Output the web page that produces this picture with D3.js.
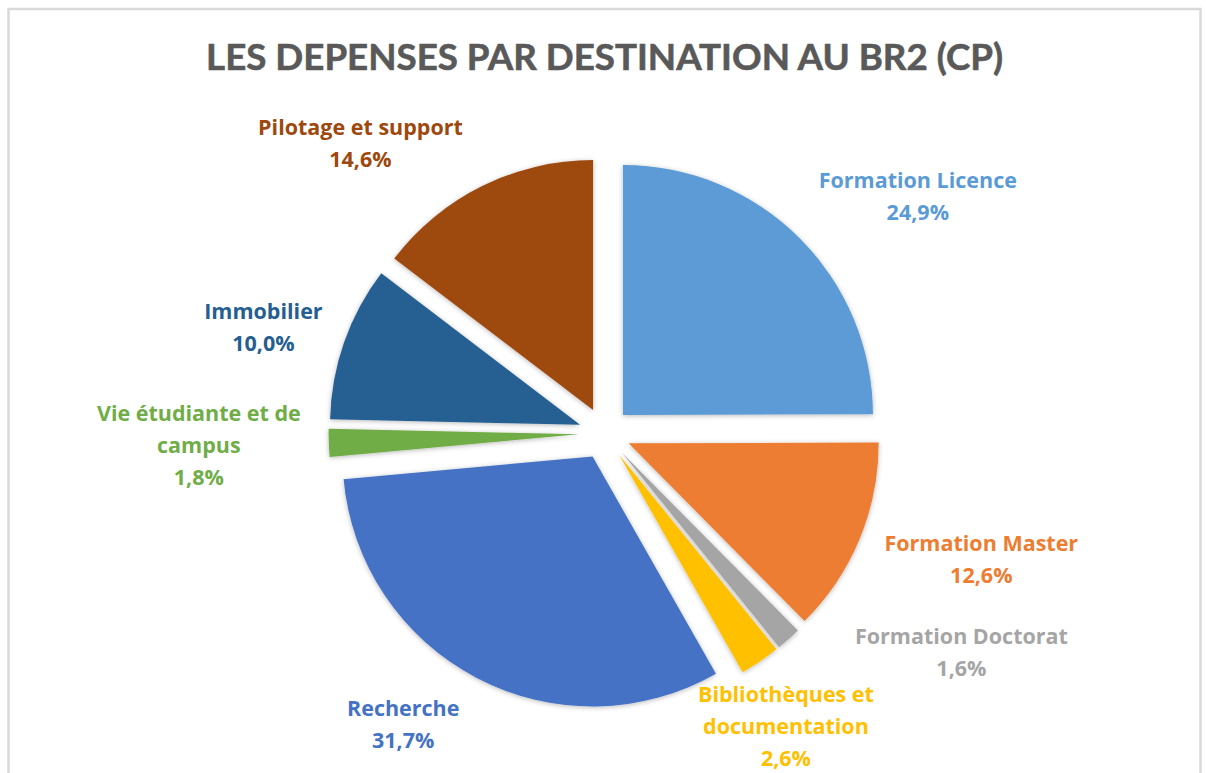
<!DOCTYPE html>
<html>
<head>
<meta charset="utf-8">
<script src="https://cdn.jsdelivr.net/npm/d3@7"></script>
<style>
  html, body { margin: 0; padding: 0; background: #fff; }
  svg { display: block; }
</style>
</head>
<body>
<div id="chart"></div>
<script>
// data (Excel BR2 spending, CP)
const categories = [
    "Formation Licence",
    "Formation Master",
    "Formation Doctorat",
    "Bibliothèques et documentation",
    "Recherche",
    "Vie étudiante et de campus",
    "Immobilier",
    "Pilotage et support"
];
const values = [24.9, 12.6, 1.6, 2.6, 31.7, 1.8, 10.0, 14.6];
const labelLines = [
    ["Formation Licence"],
    ["Formation Master"],
    ["Formation Doctorat"],
    ["Bibliothèques et", "documentation"],
    ["Recherche"],
    ["Vie étudiante et de", "campus"],
    ["Immobilier"],
    ["Pilotage et support"]
];
const colors = ["#5B9BD5", "#ED7D31", "#A5A5A5", "#FFC000", "#4472C4", "#70AD47", "#255E91", "#9E480E"];

// label nudges from the default outside position (excel "best fit" moves them around)
const labelShift = [[52, 25], [35, -16], [110, -57], [-27, -13], [-30, -37], [-36, -1], [8, 16], [-80, 41]];

const W = 1206, H = 773;
const CX = 604.6, CY = 433.4;
const RADIUS = 250;
const EXPLODE = 26;
const LABEL_R = 370;
const LINE_H = 32;

const svg = d3.select("#chart").append("svg")
    .attr("width", W)
    .attr("height", H);

const defs = svg.append("defs");
const shadow = defs.append("filter")
    .attr("id", "soft")
    .attr("x", "-20%").attr("y", "-20%")
    .attr("width", "140%").attr("height", "140%");
shadow.append("feDropShadow")
    .attr("dx", 0)
    .attr("dy", 1)
    .attr("stdDeviation", 2.5)
    .attr("flood-color", "#000")
    .attr("flood-opacity", 0.28);

// chart area border
svg.append("rect")
    .attr("x", 8.5)
    .attr("y", 9)
    .attr("width", 1192)
    .attr("height", H + 20)
    .attr("fill", "#fff")
    .attr("stroke", "#d9d9d9")
    .attr("stroke-width", 2.5);

svg.append("text")
    .attr("x", CX)
    .attr("y", 70)
    .attr("text-anchor", "middle")
    .attr("font-family", "Lato, 'Open Sans', sans-serif")
    .attr("font-weight", "bold")
    .attr("font-size", 37)
    .attr("fill", "#595959")
    .attr("stroke", "#595959")
    .attr("stroke-width", 0.6)
    .attr("textLength", 797)
    .attr("lengthAdjust", "spacingAndGlyphs")
    .text("LES DEPENSES PAR DESTINATION AU BR2 (CP)");

const pie = d3.pie().sort(null).value(d => d.value);
const arc = d3.arc().innerRadius(0).outerRadius(RADIUS);

const data = categories.map((name, i) => ({
    name: name,
    value: values[i],
    lines: labelLines[i],
    color: colors[i],
    shift: labelShift[i]
}));
const arcs = pie(data);

const mid = d => (d.startAngle + d.endAngle) / 2;

const g = svg.append("g")
    .attr("transform", `translate(${CX},${CY})`);

g.selectAll("path.slice")
    .data(arcs)
    .enter()
    .append("path")
    .attr("class", "slice")
    .attr("d", arc)
    .attr("fill", d => d.data.color)
    .attr("filter", "url(#soft)")
    .attr("transform", d => {
        const a = mid(d);
        return `translate(${Math.sin(a) * EXPLODE},${-Math.cos(a) * EXPLODE})`;
    });

const fmt = v => d3.format(".1f")(v).replace(".", ",") + "%";

const labels = g.selectAll("text.lbl")
    .data(arcs)
    .enter()
    .append("text")
    .attr("class", "lbl")
    .attr("text-anchor", "middle")
    .attr("font-family", "'Open Sans', Lato, sans-serif")
    .attr("font-weight", "bold")
    .attr("font-size", 21.5)
    .attr("fill", d => d.data.color);

labels.each(function (d) {
    const a = mid(d);
    const x = Math.sin(a) * LABEL_R + d.data.shift[0];
    const y = -Math.cos(a) * LABEL_R + d.data.shift[1];
    const lines = d.data.lines.concat([fmt(d.data.value)]);
    const top = y - (lines.length - 1) * LINE_H / 2 + 8;
    const t = d3.select(this);
    lines.forEach((ln, k) => {
        t.append("tspan")
            .attr("x", x)
            .attr("y", top + k * LINE_H)
            .text(ln);
    });
});
</script>
</body>
</html>
